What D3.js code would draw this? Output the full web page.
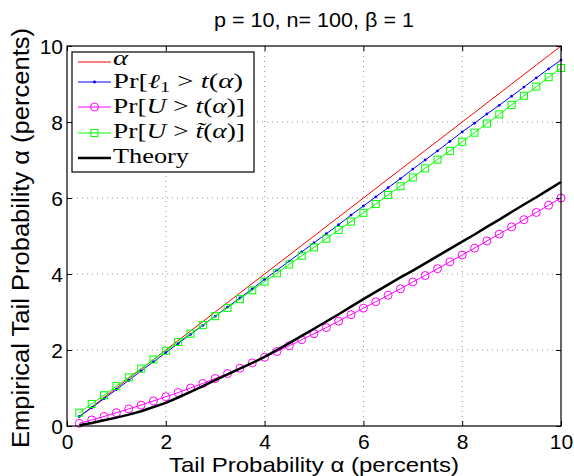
<!DOCTYPE html>
<html>
<head>
<meta charset="utf-8">
<script src="https://cdn.jsdelivr.net/npm/d3@7"></script>
<style>
  body { margin: 0; background: #fff; }
  svg { display: block; }
  .tick text { font-family: "Liberation Sans", Arial, sans-serif; font-size: 21px; }
</style>
</head>
<body>
<div id="graph"></div>
<script>
// alpha grid (percents)
const alphas = [0.25, 0.5, 0.75, 1, 1.25, 1.5, 1.75, 2, 2.25, 2.5, 2.75, 3, 3.25, 3.5, 3.75, 4,
  4.25, 4.5, 4.75, 5, 5.25, 5.5, 5.75, 6, 6.25, 6.5, 6.75, 7, 7.25, 7.5, 7.75, 8,
  8.25, 8.5, 8.75, 9, 9.25, 9.5, 9.75, 10];

const prL1 = [0.25, 0.48, 0.72, 0.96, 1.20, 1.45, 1.69, 1.93, 2.17, 2.41, 2.65, 2.89, 3.13, 3.37, 3.61, 3.86,
  4.10, 4.34, 4.58, 4.82, 5.06, 5.30, 5.55, 5.79, 6.03, 6.27, 6.51, 6.76, 7.00, 7.24, 7.49, 7.74,
  7.97, 8.21, 8.44, 8.68, 8.92, 9.16, 9.40, 9.63];

const prU = [0.07, 0.16, 0.25, 0.35, 0.45, 0.55, 0.66, 0.77, 0.88, 1.00, 1.12, 1.25, 1.38, 1.52, 1.66, 1.81,
  1.96, 2.11, 2.27, 2.43, 2.59, 2.76, 2.93, 3.10, 3.27, 3.44, 3.61, 3.79, 3.96, 4.14, 4.32, 4.50,
  4.68, 4.87, 5.05, 5.24, 5.43, 5.62, 5.81, 6.00];

const prUTilde = [0.35, 0.58, 0.81, 1.05, 1.28, 1.51, 1.75, 1.98, 2.21, 2.43, 2.66, 2.89, 3.11, 3.34, 3.57, 3.80,
  4.02, 4.25, 4.48, 4.70, 4.93, 5.16, 5.38, 5.61, 5.84, 6.08, 6.31, 6.54, 6.78, 7.01, 7.24, 7.48,
  7.72, 7.96, 8.20, 8.45, 8.69, 8.93, 9.18, 9.42];

const theory = [0.02, 0.08, 0.15, 0.22, 0.30, 0.39, 0.50, 0.61, 0.75, 0.90, 1.05, 1.21, 1.36, 1.51, 1.66, 1.82,
  2.00, 2.18, 2.37, 2.56, 2.75, 2.94, 3.14, 3.34, 3.53, 3.72, 3.91, 4.09, 4.28, 4.47, 4.66, 4.85,
  5.04, 5.24, 5.43, 5.63, 5.83, 6.02, 6.22, 6.42];

const xTicks = [0, 2, 4, 6, 8, 10];
const yTicks = [0, 2, 4, 6, 8, 10];

const W = 574, H = 476;
const margin = {top: 46, right: 13, bottom: 50, left: 67};
const width = W - margin.left - margin.right,
    height = H - margin.top - margin.bottom;

const svg = d3.select("#graph").append("svg")
    .attr("width", W).attr("height", H);

const g = svg.append("g")
    .attr("transform", "translate(" + margin.left + "," + margin.top + ")");

const x = d3.scaleLinear().domain([0, 10]).range([0, width]);
const y = d3.scaleLinear().domain([0, 10]).range([height, 0]);

// dotted grid
g.append("g").selectAll("line").data(xTicks.slice(1, -1)).enter().append("line")
    .attr("x1", d => x(d)).attr("x2", d => x(d))
    .attr("y1", 0).attr("y2", height)
    .attr("stroke", "#999").attr("stroke-dasharray", "1,4");
g.append("g").selectAll("line").data(yTicks.slice(1, -1)).enter().append("line")
    .attr("y1", d => y(d)).attr("y2", d => y(d))
    .attr("x1", 0).attr("x2", width)
    .attr("stroke", "#999").attr("stroke-dasharray", "1,4");

// axes (ticks inward on all sides)
const xAxis = g.append("g").attr("transform", "translate(0," + height + ")")
    .call(d3.axisBottom(x).tickValues(xTicks).tickSizeInner(-5).tickSizeOuter(0).tickPadding(8));
const yAxis = g.append("g")
    .call(d3.axisLeft(y).tickValues(yTicks).tickSizeInner(-5).tickSizeOuter(0).tickPadding(4));
g.append("g").call(d3.axisTop(x).tickValues(xTicks).tickSizeInner(-5).tickSizeOuter(0).tickFormat(""));
g.append("g").attr("transform", "translate(" + width + ",0)")
    .call(d3.axisRight(y).tickValues(yTicks).tickSizeInner(-5).tickSizeOuter(0).tickFormat(""));
g.selectAll(".domain").attr("stroke", "none");
g.selectAll(".tick line").attr("stroke", "#000");
xAxis.selectAll(".tick text").attr("dy", "0.72em");
yAxis.selectAll(".tick text").attr("dy", "0.36em");

const pts = arr => alphas.map((a, i) => [a, arr[i]]);
const line = d3.line().x(d => x(d[0])).y(d => y(d[1]));

// series
g.append("path").datum(pts(alphas)).attr("d", line)
    .attr("fill", "none").attr("stroke", "#ff0000").attr("stroke-width", 1);

g.append("path").datum(pts(prL1)).attr("d", line)
    .attr("fill", "none").attr("stroke", "#0000ff").attr("stroke-width", 1);
g.append("g").selectAll("circle").data(pts(prL1)).enter().append("circle")
    .attr("cx", d => x(d[0])).attr("cy", d => y(d[1])).attr("r", 1.4)
    .attr("fill", "#0000ff");

g.append("path").datum(pts(prU)).attr("d", line)
    .attr("fill", "none").attr("stroke", "#ff00ff").attr("stroke-width", 1);
g.append("g").selectAll("circle").data(pts(prU)).enter().append("circle")
    .attr("cx", d => x(d[0])).attr("cy", d => y(d[1])).attr("r", 4)
    .attr("fill", "none").attr("stroke", "#ff00ff");

g.append("path").datum(pts(prUTilde)).attr("d", line)
    .attr("fill", "none").attr("stroke", "#00ff00").attr("stroke-width", 1);
g.append("g").selectAll("rect").data(pts(prUTilde)).enter().append("rect")
    .attr("x", d => x(d[0]) - 3.5).attr("y", d => y(d[1]) - 3.5)
    .attr("width", 7).attr("height", 7)
    .attr("fill", "none").attr("stroke", "#00ff00");

g.append("path").datum(pts(theory)).attr("d", line)
    .attr("fill", "none").attr("stroke", "#000").attr("stroke-width", 2.5);

// plot box
g.append("rect").attr("width", width).attr("height", height)
    .attr("fill", "none").attr("stroke", "#000").attr("stroke-width", 1.2);

// legend
const leg = g.append("g").attr("transform", "translate(5,6)");
leg.append("rect").attr("width", 182).attr("height", 120)
    .attr("fill", "#fff").attr("stroke", "#000").attr("stroke-width", 1.2);

const legendItems = [
  {color: "#ff0000", marker: "none", w: 1, len: 15, html: '<tspan font-style="italic">α</tspan>'},
  {color: "#0000ff", marker: "dot", w: 1, len: 130, html: 'Pr[<tspan font-style="italic">ℓ</tspan><tspan font-size="14" dy="4">1</tspan><tspan dy="-4"> &gt; </tspan><tspan font-style="italic">t</tspan>(<tspan font-style="italic">α</tspan>)'},
  {color: "#ff00ff", marker: "circle", w: 1, len: 132, html: 'Pr[<tspan font-style="italic">U</tspan> &gt; <tspan font-style="italic">t</tspan>(<tspan font-style="italic">α</tspan>)]'},
  {color: "#00ff00", marker: "square", w: 1, len: 132, html: 'Pr[<tspan font-style="italic">U</tspan> &gt; <tspan font-style="italic">t̃</tspan>(<tspan font-style="italic">α</tspan>)]'},
  {color: "#000", marker: "none", w: 2.5, len: 76, html: 'Theory'}
];
const rowY = [10, 30, 55, 81, 106];
const textBase = [65, 88, 113, 138, 163];

legendItems.forEach((it, i) => {
  const row = leg.append("g").attr("transform", "translate(0," + rowY[i] + ")");
  row.append("line").attr("x1", 6).attr("x2", 39).attr("y1", 0).attr("y2", 0)
      .attr("stroke", it.color).attr("stroke-width", it.w);
  if (it.marker === "dot") row.append("circle").attr("cx", 22.5).attr("cy", 0).attr("r", 1.4).attr("fill", it.color);
  if (it.marker === "circle") row.append("circle").attr("cx", 22.5).attr("cy", 0).attr("r", 4).attr("fill", "none").attr("stroke", it.color);
  if (it.marker === "square") row.append("rect").attr("x", 19).attr("y", -3.5).attr("width", 7).attr("height", 7).attr("fill", "none").attr("stroke", it.color);
  row.append("text").attr("x", 41).attr("y", textBase[i] - 52 - rowY[i])
      .attr("font-family", "'Liberation Serif', 'Times New Roman', serif")
      .attr("font-size", 20)
      .attr("textLength", it.len).attr("lengthAdjust", "spacingAndGlyphs")
      .html(it.html);
});

// title and labels
svg.append("text").attr("x", margin.left + width / 2).attr("y", 27)
    .attr("text-anchor", "middle")
    .attr("font-family", "'Liberation Sans', Arial, sans-serif").attr("font-size", 20)
    .attr("textLength", 200).attr("lengthAdjust", "spacingAndGlyphs")
    .text("p = 10, n= 100, β = 1");

svg.append("text").attr("x", margin.left + width / 2).attr("y", 472)
    .attr("text-anchor", "middle")
    .attr("font-family", "'Liberation Sans', Arial, sans-serif").attr("font-size", 21)
    .attr("textLength", 290).attr("lengthAdjust", "spacingAndGlyphs")
    .text("Tail Probability α (percents)");

svg.append("text")
    .attr("transform", "translate(29," + (margin.top + height / 2 + 2) + ") rotate(-90)")
    .attr("text-anchor", "middle")
    .attr("font-family", "'Liberation Sans', Arial, sans-serif").attr("font-size", 23)
    .attr("textLength", 420).attr("lengthAdjust", "spacingAndGlyphs")
    .text("Empirical Tail Probability α (percents)");
</script>
</body>
</html>
